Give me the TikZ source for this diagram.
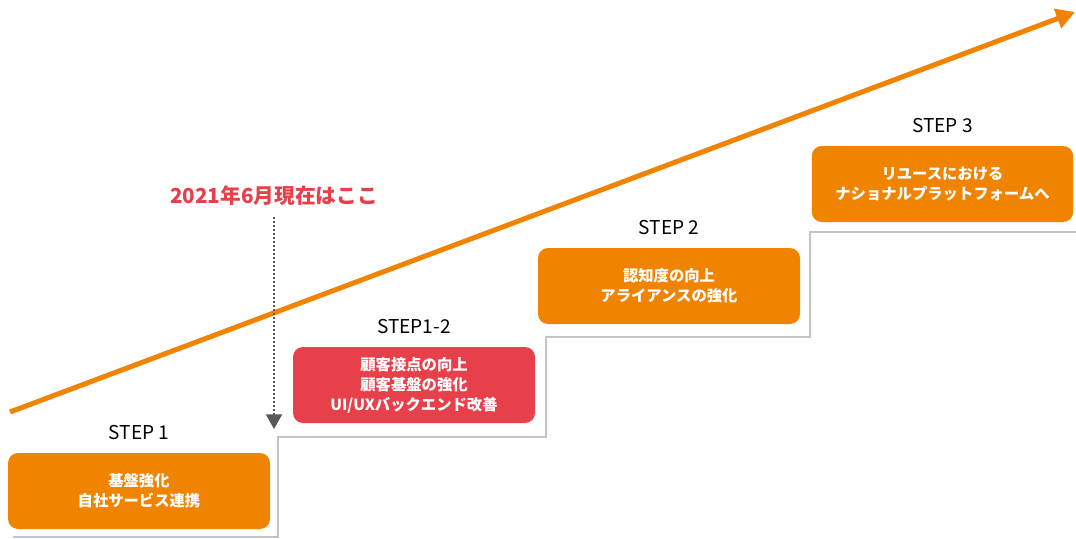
\documentclass[tikz,border=0pt]{standalone}
\usepackage{fontspec}
\setmainfont{Noto Sans CJK JP}
\usepackage{tikz}
\usetikzlibrary{arrows.meta,positioning}
\usepackage{xcolor}
\definecolor{stepOrange}{HTML}{F08300}
\definecolor{stepRed}{HTML}{E8404A}
\definecolor{stairGray}{HTML}{C4C4C4}
\definecolor{markGray}{HTML}{595959}

\begin{document}
\begin{tikzpicture}[x=0.75pt,y=-0.75pt,
  stepbox/.style={fill=stepOrange,rounded corners=7.5pt,minimum height=57pt,
    text=white,align=center,font=\fontsize{11.5}{15}\selectfont\bfseries},
  steplabel/.style={inner sep=0pt,font=\fontsize{14.3}{16}\selectfont},
  stair/.style={draw=stairGray,line width=1.2pt},
  growth/.style={draw=stepOrange,line width=3.75pt,-{Triangle[length=14pt,width=15pt]}},
  nowmark/.style={draw=markGray,dash pattern=on 1.5pt off 1.5pt,line width=1.5pt,
    shorten <=5pt,-{Triangle[length=11pt,width=12pt]}}]
  \useasboundingbox (0,0) rectangle (1076,539);
  \coordinate (sA) at (13,537);
  \coordinate (sB) at (278,537);
  \coordinate (sC) at (278,437);
  \coordinate (sD) at (546,437);
  \coordinate (sE) at (546,337);
  \coordinate (sF) at (810,337);
  \coordinate (sG) at (810,232);
  \coordinate (sH) at (1076,232);
  \coordinate (gStart) at (10,412);
  \coordinate (gEnd) at (1075,12);
  \coordinate (nowEnd) at (274,429);
  % staircase
  \draw[stair] (sA) -- (sB) -- (sC) -- (sD) -- (sE) -- (sF) -- (sG) -- (sH);
  % growth arrow
  \draw[growth] (gStart) -- (gEnd);
  % steps
  \node[stepbox,minimum width=196.5pt] (box1) at (139,491) {基盤強化\\自社サービス連携};
  \node[stepbox,fill=stepRed,minimum width=181.5pt] (box12) at (414,385) {顧客接点の向上\\顧客基盤の強化\\UI/UXバックエンド改善};
  \node[stepbox,minimum width=196.5pt] (box2) at (669,286) {認知度の向上\\アライアンスの強化};
  \node[stepbox,minimum width=196pt] (box3) at (942.5,184) {リユースにおける\\ナショナルプラットフォームへ};
  \node[steplabel,above=9.75pt of box1] (lab1) {STEP 1};
  \node[steplabel,above=9.75pt of box12] (lab12) {STEP1-2};
  \node[steplabel,above=9.75pt of box2] (lab2) {STEP 2};
  \node[steplabel,above=9.75pt of box3] (lab3) {STEP 3};
  % where we are now
  \node[text=stepRed,font=\fontsize{15.5}{18}\selectfont\bfseries] (now) at (274,196) {2021年6月現在はここ};
  \draw[nowmark] (now.south) -- (nowEnd);
\end{tikzpicture}
\end{document}
